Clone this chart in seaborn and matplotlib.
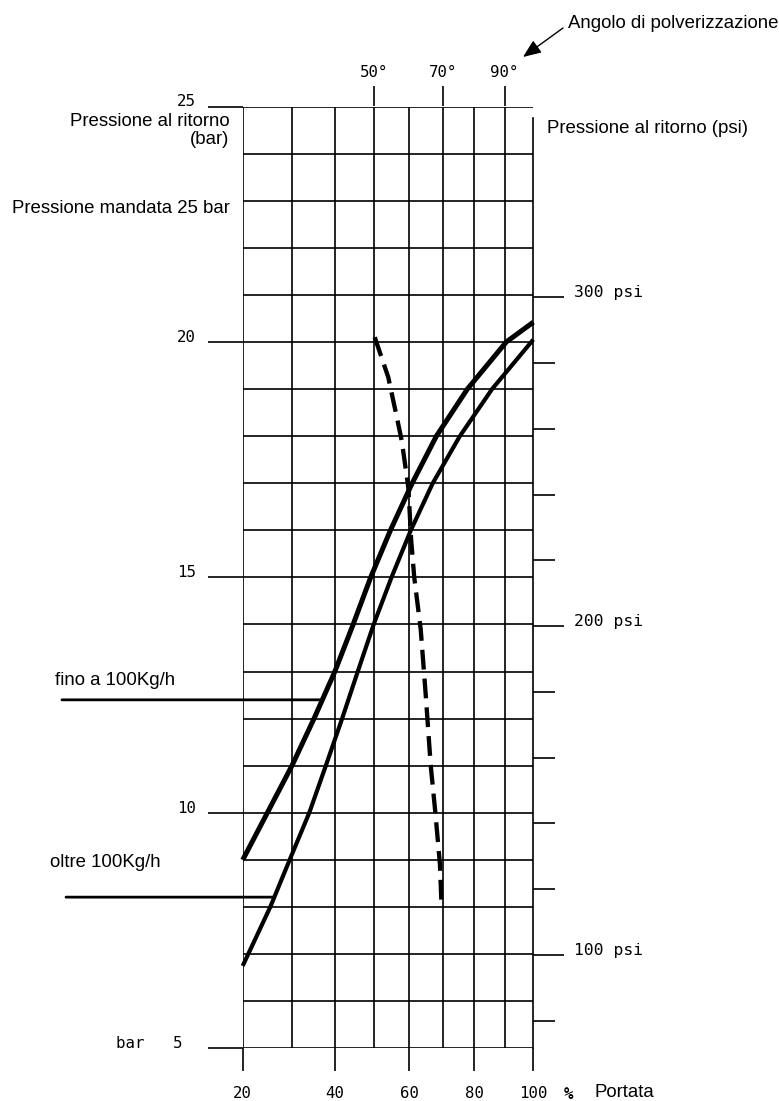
import numpy as np
import matplotlib
matplotlib.use("Agg")
import matplotlib.pyplot as plt
from matplotlib.transforms import ScaledTranslation
import seaborn as sns

# Return pressure (bar) against flow rate (% of nominal)
portata_fino = [20, 24.8, 30, 35.0, 40.0, 44.6, 49.2, 54.6, 60.8, 68.0, 77.7, 90.6, 100]
bar_fino = [9.0, 10, 11, 12, 13, 14, 15, 16, 17, 18, 19, 20, 20.42]

portata_oltre = [20, 25.4, 29.5, 33.9, 37.8, 41.8, 45.8, 50.0, 54.9, 60.4, 66.9, 75.3, 85.8, 100]
bar_oltre = [6.75, 8, 9, 10, 11, 12, 13, 14, 15, 16, 17, 18, 19, 20.05]

# Spray angle trend (dashed)
portata_angolo = [50.3, 54.0, 56.4, 57.8, 59.7, 60.5, 61.4, 63.3, 64.8, 66.3, 67.7, 69.1, 69.6]
bar_angolo = [20.1, 19.25, 18.4, 17.9, 16.9, 15.8, 15.0, 13.9, 12.5, 11.0, 10.0, 8.9, 8.0]

portata_ticks = [20, 40, 60, 80, 100]
portata_grid = [30, 50, 70, 90]
bar_ticks = [5, 10, 15, 20, 25]
bar_tick_labels = ["bar   5", "10", "15", "20", "25"]
bar_grid = list(range(6, 25))
angolo_ticks = [50, 70, 90]
angolo_labels = ["50°", "70°", "90°"]
psi_ticks = [100, 200, 300]
psi_labels = ["100 psi", "200 psi", "300 psi"]
psi_minor = [80, 120, 140, 160, 180, 220, 240, 260, 280]
PSI_PER_BAR = 14.32

# pressure level where each label's leader line meets its curve
leader_fino_bar = 12.4
leader_oltre_bar = 8.21

W, H, DPI = 779, 1101, 100


def fx(px):
    return px / W


def fy(py):
    return 1 - py / H


def fwd(x):
    return np.power(np.abs(x), 0.6)


def inv(x):
    return np.power(np.abs(x), 1 / 0.6)


sns.set_style("white")
plt.rcParams["font.family"] = ["DejaVu Sans Mono"]
plt.rcParams["text.color"] = "black"
SANS = ["Liberation Sans", "DejaVu Sans"]
LW_GRID = 1.2
NUM_SIZE = 11.3
TXT_SIZE = 13.4

fig = plt.figure(figsize=(W / DPI, H / DPI), dpi=DPI)
fig.patch.set_facecolor("white")
ax = fig.add_axes([fx(242.7), fy(1048.3), (533.3 - 242.7) / W, (1048.3 - 106.5) / H])
ax.set_xscale("function", functions=(fwd, inv))

sns.lineplot(x=portata_fino, y=bar_fino, ax=ax, color="black", lw=3.6,
             errorbar=None, sort=False, solid_capstyle="butt", clip_on=False)
sns.lineplot(x=portata_oltre, y=bar_oltre, ax=ax, color="black", lw=3.0,
             errorbar=None, sort=False, solid_capstyle="butt", clip_on=False)
sns.lineplot(x=portata_angolo, y=bar_angolo, ax=ax, color="black", lw=3.1,
             errorbar=None, sort=False, linestyle=(0, (4.6, 2.1)),
             dash_capstyle="butt", clip_on=False)

ax.set_xlim(20, 100)
ax.set_ylim(5, 25)
ax.set_xlabel("")
ax.set_ylabel("")
for s in ax.spines.values():
    s.set_visible(False)

ax.set_xticks(portata_ticks, labels=[str(v) for v in portata_ticks])
ax.set_xticks(portata_grid, minor=True)
ax.set_yticks(bar_ticks, labels=bar_tick_labels)
ax.set_yticks(bar_grid, minor=True)
ax.grid(True, which="both", color="black", lw=LW_GRID)
ax.xaxis.get_major_ticks()[-1].gridline.set_visible(False)

ax.tick_params(axis="x", which="major", bottom=True, length=16.6, width=LW_GRID,
               direction="out", pad=10.5, labelsize=NUM_SIZE, color="black",
               labelcolor="black")
ax.tick_params(axis="y", which="major", left=True, length=25.2, width=LW_GRID,
               direction="out", pad=8.4, labelsize=NUM_SIZE, color="black",
               labelcolor="black")
ax.tick_params(which="minor", length=0)
for lab in ax.get_yticklabels():
    lab.set_va("baseline")
lab5 = ax.yaxis.get_major_ticks()[0].label1
lab5.set_transform(lab5.get_transform() + ScaledTranslation(-0.14, 0, fig.dpi_scale_trans))

# spray angle ticks on top
top = ax.twiny()
top.set_xscale("function", functions=(fwd, inv))
top.set_xlim(20, 100)
top.set_xticks(angolo_ticks, labels=angolo_labels)
top.tick_params(axis="x", which="major", top=True, length=14.4, width=LW_GRID,
                direction="out", pad=4.4, labelsize=NUM_SIZE, color="black",
                labelcolor="black")
top.tick_params(which="minor", length=0)
for s in top.spines.values():
    s.set_visible(False)

# return pressure in psi on the right
right = ax.twinx()
right.set_ylim(5 * PSI_PER_BAR, 25 * PSI_PER_BAR)
right.set_yticks(psi_ticks, labels=psi_labels)
right.set_yticks(psi_minor, minor=True)
right.tick_params(axis="y", which="major", right=True, length=22.3, width=LW_GRID,
                  direction="out", pad=7.2, labelsize=NUM_SIZE + 0.5, color="black",
                  labelcolor="black")
right.tick_params(axis="y", which="minor", right=True, length=15.8, width=LW_GRID,
                  direction="out", color="black")
for name, s in right.spines.items():
    s.set_visible(name == "right")
right.spines["right"].set_linewidth(LW_GRID)
right.spines["right"].set_color("black")
right.spines["right"].set_bounds(5 * PSI_PER_BAR, 24.76 * PSI_PER_BAR)
for lab in right.get_yticklabels():
    lab.set_va("baseline")

# leader lines from the curve labels
for yb, xs, ys, x0 in [(leader_fino_bar, portata_fino, bar_fino, -0.622),
                       (leader_oltre_bar, portata_oltre, bar_oltre, -0.608)]:
    x_end = float(np.interp(yb, ys, xs))
    ax.annotate("", xy=(x_end, yb), xycoords="data",
                xytext=(x0, yb), textcoords=("axes fraction", "data"),
                arrowprops=dict(arrowstyle="-", lw=2.0, color="black",
                                shrinkA=0, shrinkB=0),
                annotation_clip=False)

txt = dict(family=SANS, size=TXT_SIZE, color="black", va="baseline")
fig.text(fx(229.5), fy(126), "Pressione al ritorno", ha="right", **txt)
fig.text(fx(229.5), fy(143.5), "(bar)", ha="right", **txt)
fig.text(fx(229.5), fy(213), "Pressione mandata 25 bar", ha="right", **txt)
fig.text(fx(547), fy(133), "Pressione al ritorno (psi)", ha="left", **txt)
fig.text(fx(778), fy(28), "Angolo di polverizzazione", ha="right", **txt)
fig.text(fx(55), fy(685), "fino a 100Kg/h", ha="left", **txt)
fig.text(fx(50), fy(867), "oltre 100Kg/h", ha="left", **txt)
fig.text(fx(595), fy(1097), "Portata", ha="left", **txt)
fig.text(fx(569), fy(1099), "%", ha="center", va="baseline", size=NUM_SIZE,
         weight="bold", color="black")

ax.annotate("", xy=(fx(523), fy(57)), xycoords="figure fraction",
            xytext=(fx(563), fy(28)), textcoords="figure fraction",
            arrowprops=dict(arrowstyle="-|>,head_length=1.1,head_width=0.45",
                            lw=1.0, color="black", shrinkA=0, shrinkB=0),
            annotation_clip=False)

fig.savefig("out.png", dpi=DPI, facecolor="white")
